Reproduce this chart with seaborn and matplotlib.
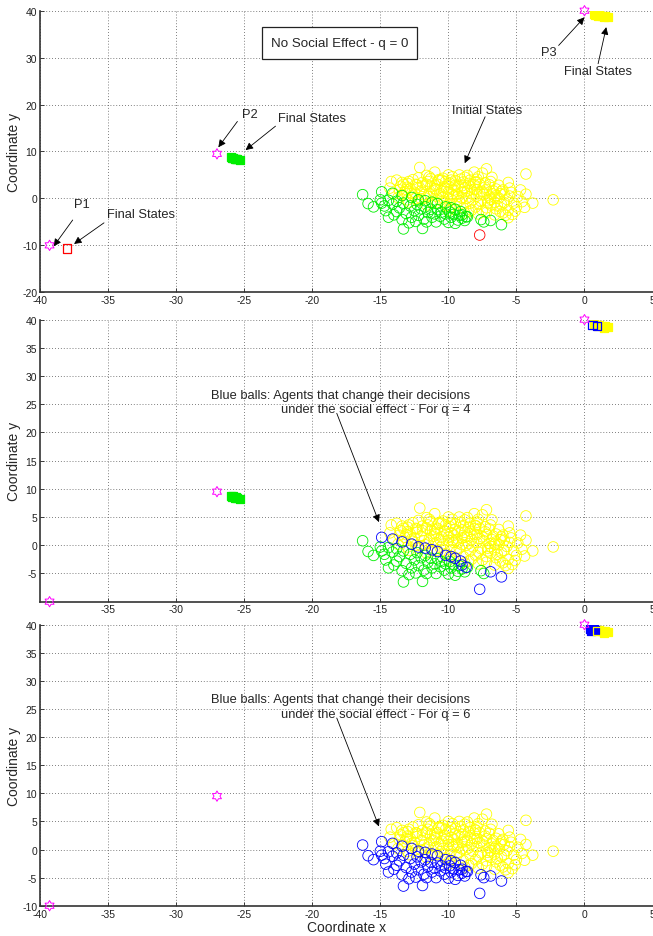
import numpy as np
import matplotlib
matplotlib.use("Agg")
import matplotlib.pyplot as plt
import matplotlib.patches as mpatches
from matplotlib.path import Path
import seaborn as sns

# agents that keep choosing P3 (yellow, initial states)
yellow_x = [-12.1, -11.0, -9.2, -8.1, -7.5, -7.2, -6.8, -5.6, -4.3,
            -14.2, -13.8, -13.4, -13.0, -12.6, -12.2, -11.6, -10.4, -10.0, -9.8, -8.8, -8.4, -7.9,
            -6.3, -6.0, -5.4, -4.9, -4.3, -3.8, -2.3, -4.6, -5.0, -5.6, -5.3, -5.6, -6.0, -6.5,
            -6.9, -7.2, -7.8, -8.3, -8.8,
            -14.3, -14.0, -13.7, -13.5, -13.2, -13.0, -12.8, -12.6, -12.4, -12.2, -12.0, -11.9,
            -11.7, -11.5, -11.4, -11.2, -11.0, -10.9, -10.8, -10.6, -10.5, -10.3, -10.2, -10.0,
            -9.9, -9.8, -9.6, -9.5, -9.4, -9.3, -9.1, -9.0, -8.9, -8.8, -8.7, -8.5, -8.4, -8.3,
            -8.1, -8.0, -7.9, -7.7, -7.6, -7.5, -7.3, -7.2, -7.0, -6.9, -6.8, -6.6, -6.5, -6.3,
            -6.1, -5.9, -5.7, -5.5, -5.2, -12.9, -11.3, -10.7, -9.7, -8.6, -7.8,
            -11.8, -11.1, -10.4, -10.1, -9.7, -9.2, -9.0, -8.6, -8.2, -7.9, -7.4, -7.1, -6.7,
            -6.4, -10.8, -9.9, -9.5, -12.5, -13.4, -12.9, -11.6, -10.0, -8.5, -7.5, -6.2, -5.8,
            -6.6, -5.5, -4.7, -4.4, -5.1, -7.0, -8.0, -9.3, -10.5, -11.4, -12.3, -13.1,
            -13.6, -13.3, -12.7, -12.3, -11.9, -11.5, -11.0, -10.6, -10.2, -9.8, -9.4, -8.9,
            -8.5, -8.1, -7.7, -7.3, -6.9, -6.5, -6.1, -12.0, -11.3, -10.7, -10.0, -9.5, -9.0,
            -8.4, -7.8, -7.2, -6.6, -5.9, -13.0, -12.4, -11.6, -10.9, -10.3, -9.6, -8.8, -8.0,
            -7.1, -6.2]
yellow_y = [6.6, 5.6, 5.0, 5.6, 5.4, 6.3, 4.5, 3.4, 5.2,
            3.6, 3.9, 3.4, 3.2, 4.0, 4.4, 4.9, 4.3, 5.0, 3.9, 4.5, 3.9, 4.1,
            2.8, 1.8, 1.3, 0.4, 0.9, -1.0, -0.3, -0.7, -1.8, -2.5, -3.4, -4.1, -3.1, -2.2,
            -1.4, -3.0, -3.3, -2.5, -3.1,
            2.2, 1.0, 0.2, 2.6, 1.4, -0.3, 2.0, 0.7, 3.0, -0.5, 1.6, 2.6,
            0.1, 3.6, 1.1, -1.0, 2.1, 0.5, 3.0, -0.4, 1.5, 2.5, -1.5, 0.9,
            3.3, -0.3, 1.8, 2.8, -1.1, 0.4, 4.1, 1.3, -2.0, 2.3, 0.0, 3.2, -1.0, 1.0,
            2.0, -1.8, 0.5, 3.0, -0.6, 1.5, 2.4, -2.0, 0.3, 3.6, 1.0, -0.8, 2.0, 0.1,
            -1.3, 0.9, -0.2, 2.2, -1.0, 3.6, 4.2, 3.8, 4.6, 4.9, 4.6,
            0.8, 1.6, 0.2, 2.0, 0.9, -0.5, 2.7, 1.6, -0.3, 1.9, 0.8, -1.0, 1.6,
            -1.6, -0.9, -1.9, -2.4, 1.3, 0.8, -0.9, -1.4, -2.6, -2.8, -2.6, -2.8, -3.6,
            -3.5, 0.5, 1.8, -1.9, -2.7, 2.9, 3.4, 2.5, 3.9, 4.6, 2.9, 1.9,
            1.8, 3.0, 1.1, 2.3, 3.4, 0.4, 2.8, 1.0, 3.6, 2.2, 0.9, 3.5,
            0.3, 2.9, 1.2, 3.3, -0.2, 0.6, 1.5, -0.1, 2.6, 4.0, 1.4, 3.8, 0.1,
            2.5, -1.2, 1.9, 0.2, -0.9, 2.4, 0.0, 3.0, 1.9, -0.9, 0.5, 1.4, 3.5,
            -0.5, 1.0]

# agents on P2 whose choice stays unchanged at q = 4 (green)
green_x = [-16.3, -15.9, -15.5, -15.0, -14.7, -14.4, -14.1, -14.4, -14.6, -13.8, -13.6,
           -13.3, -13.4, -13.3, -13.8, -13.1, -12.8, -12.7, -12.5, -12.3, -12.2, -12.0,
           -11.9, -11.8, -11.7, -11.5, -11.3, -11.2, -11.0, -10.9, -10.8, -10.6, -10.5,
           -10.3, -10.2, -10.0, -9.9, -9.8, -9.6, -9.5, -9.3, -9.2, -9.0, -8.8, -8.6,
           -11.6, -12.9, -14.9, -7.6, -7.4, -14.0, -12.4]
green_y = [0.8, -1.1, -1.8, -0.3, -1.6, -0.4, -1.2, -4.0, -2.6, -0.6, -2.0,
           -1.0, -4.5, -6.5, -2.8, -3.2, -1.6, -4.0, -2.6, -1.3, -3.6, -2.2,
           -6.4, -4.4, -1.8, -3.0, -2.3, -4.0, -3.3, -5.0, -2.4, -3.8, -2.9,
           -4.4, -3.3, -5.1, -2.9, -4.0, -3.4, -5.3, -4.6, -3.6, -4.2, -4.7, -3.9,
           -5.0, -5.2, -1.0, -4.5, -5.0, -3.5, -4.9]

# agents on P2 that switch to P3 already at q = 4 (green -> blue)
switch_x = [-14.9, -14.1, -13.4, -12.7, -12.2, -11.7, -11.2, -10.8, -10.2, -9.8, -9.5,
            -9.1, -9.0, -8.7, -6.9, -6.1]
switch_y = [1.4, 1.1, 0.6, 0.2, -0.3, -0.5, -0.8, -1.1, -1.8, -2.0, -2.3,
            -2.8, -3.5, -3.9, -4.7, -5.6]

# the single agent choosing P1 (red)
red_x = [-7.7]
red_y = [-7.8]

# destinations
dest_x = [-39.3, -27.0, 0.0]
dest_y = [-10.0, 9.5, 40.0]

# final states
p1_final_x = [-38.0]
p1_final_y = [-10.7]
p2_final_x = [-26.0, -25.8, -25.6, -25.5, -25.3, -25.7, -25.9]
p2_final_y = [8.8, 8.7, 8.5, 8.3, 8.2, 8.4, 8.6]
p3_final_x = [0.7, 0.9, 1.1, 1.3, 1.5, 1.7, 1.0, 1.4, 0.8]
p3_final_y = [39.2, 39.1, 39.0, 38.9, 38.8, 38.7, 38.8, 38.6, 39.0]
q4_blue_final_x = [0.6, 0.9]
q4_blue_final_y = [39.1, 38.9]
q6_blue_final_x = [0.4, 0.6, 0.8, 0.5, 0.7]
q6_blue_final_y = [39.3, 39.1, 39.0, 38.9, 39.2]

YEL = "#ffff00"
GRN = "#00ee00"
RED = "#ff0000"
BLU = "#0000ff"
MAG = "#ff00ff"

sns.set_style("white")
plt.rcParams["font.family"] = ["Liberation Sans", "DejaVu Sans"]
plt.rcParams["axes.unicode_minus"] = False

# hexagram marker
ang = np.deg2rad(90 + 30 * np.arange(12))
rad = np.where(np.arange(12) % 2 == 0, 1.0, 0.58)
verts = np.column_stack([rad * np.cos(ang), rad * np.sin(ang)])
verts = np.vstack([verts, verts[:1]])
hexagram = Path(verts, closed=True)


def circles(ax, x, y, color):
    sns.scatterplot(x=x, y=y, ax=ax, marker="o", s=58, facecolor="none", edgecolor=color,
                    linewidth=0.6, legend=False, zorder=3)


def squares(ax, x, y, color, filled=True, z=4):
    sns.scatterplot(x=x, y=y, ax=ax, marker="s", s=36,
                    facecolor=color if filled else "none",
                    edgecolor=color, linewidth=0.9, legend=False, zorder=z)


def arrow(ax, tail, head):
    ax.annotate("", xy=head, xytext=tail,
                arrowprops=dict(arrowstyle="-|>", color="k", lw=0.6,
                                mutation_scale=11, shrinkA=0, shrinkB=0))


def style_axes(ax, ylim, yticks, xticks):
    ax.set_xlim(-40, 5)
    ax.set_ylim(*ylim)
    ax.set_xticks(xticks)
    ax.set_yticks(yticks)
    ax.grid(True, color="#555555", linestyle=(0, (1, 2.5)), linewidth=0.6)
    ax.set_axisbelow(True)
    for s in ["top", "right"]:
        ax.spines[s].set_visible(False)
    for s in ["left", "bottom"]:
        ax.spines[s].set_color("#333333")
        ax.spines[s].set_linewidth(1.2)
    ax.tick_params(direction="in", length=3, width=0.6, labelsize=7.5, pad=2,
                   colors="#222222", left=True, bottom=True)
    ax.set_ylabel("Coordinate y", fontsize=10)
    ax.yaxis.set_label_coords(-0.031, 0.5)


fig = plt.figure(figsize=(6.53, 9.37), dpi=100)
ax1 = fig.add_axes([0.0613, 0.687, 0.938, 0.3005])
ax2 = fig.add_axes([0.0613, 0.3568, 0.938, 0.301])
ax3 = fig.add_axes([0.0613, 0.0323, 0.938, 0.2999])

# ---- panel 1 : q = 0
circles(ax1, yellow_x, yellow_y, YEL)
circles(ax1, green_x + switch_x, green_y + switch_y, GRN)
circles(ax1, red_x, red_y, RED)
squares(ax1, p1_final_x, p1_final_y, RED, filled=False)
squares(ax1, p2_final_x, p2_final_y, GRN)
squares(ax1, p3_final_x, p3_final_y, YEL)
style_axes(ax1, (-20, 40), np.arange(-20, 41, 10), np.arange(-40, 6, 5))

# ---- panel 2 : q = 4
circles(ax2, yellow_x, yellow_y, YEL)
circles(ax2, green_x, green_y, GRN)
circles(ax2, switch_x + red_x, switch_y + red_y, BLU)
squares(ax2, p2_final_x, p2_final_y, GRN)
squares(ax2, p3_final_x, p3_final_y, YEL)
squares(ax2, q4_blue_final_x, q4_blue_final_y, BLU, filled=False, z=5)
style_axes(ax2, (-10, 40), np.arange(-5, 41, 5), np.arange(-35, 6, 5))

# ---- panel 3 : q = 6
circles(ax3, yellow_x, yellow_y, YEL)
circles(ax3, green_x + switch_x + red_x, green_y + switch_y + red_y, BLU)
squares(ax3, p3_final_x, p3_final_y, YEL)
squares(ax3, q6_blue_final_x, q6_blue_final_y, BLU, z=5)
squares(ax3, [0.9], [38.9], YEL, filled=False, z=6)
style_axes(ax3, (-10, 40), np.arange(-10, 41, 5), np.arange(-40, 6, 5))
ax3.set_xlabel("Coordinate x", fontsize=10, labelpad=1)

for ax in (ax1, ax2, ax3):
    sns.scatterplot(x=dest_x, y=dest_y, ax=ax, marker=hexagram, s=55, facecolor="none",
                    edgecolor=MAG, linewidth=0.7, legend=False, zorder=6, clip_on=False)

# annotations panel 1
fs = 9.3
ax1.add_patch(mpatches.Rectangle((-23.7, 29.7), 11.4, 6.8, facecolor="white",
                                 edgecolor="#222222", linewidth=0.9, zorder=7))
ax1.text(-18.0, 33.1, "No Social Effect - q = 0", ha="center", va="center",
         fontsize=9.6, zorder=8)
ax1.text(-36.9, -1.2, "P1", ha="center", va="center", fontsize=fs)
arrow(ax1, (-37.6, -4.6), (-39.0, -10.2))
ax1.text(-32.6, -3.3, "Final States", ha="center", va="center", fontsize=fs)
arrow(ax1, (-35.3, -5.2), (-37.5, -9.7))
ax1.text(-24.6, 18.0, "P2", ha="center", va="center", fontsize=fs)
arrow(ax1, (-25.5, 16.4), (-26.9, 10.9))
ax1.text(-20.0, 17.1, "Final States", ha="center", va="center", fontsize=fs)
arrow(ax1, (-22.7, 15.4), (-24.9, 10.3))
ax1.text(-7.15, 18.8, "Initial States", ha="center", va="center", fontsize=fs)
arrow(ax1, (-7.3, 17.4), (-8.8, 7.5))
ax1.text(-2.6, 31.2, "P3", ha="center", va="center", fontsize=fs)
arrow(ax1, (-1.9, 32.6), (0.0, 38.6))
ax1.text(1.0, 27.2, "Final States", ha="center", va="center", fontsize=fs)
arrow(ax1, (1.0, 28.7), (1.6, 36.5))

# annotations panels 2 and 3
for ax, q in ((ax2, 4), (ax3, 6)):
    ax.text(-8.4, 25.4, "Blue balls: Agents that change their decisions\n"
            f"under the social effect - For q = {q}", ha="right", va="center",
            multialignment="right", fontsize=fs, linespacing=1.3)
    arrow(ax, (-18.2, 23.4), (-15.1, 4.1))

fig.savefig("out.png", dpi=100)
